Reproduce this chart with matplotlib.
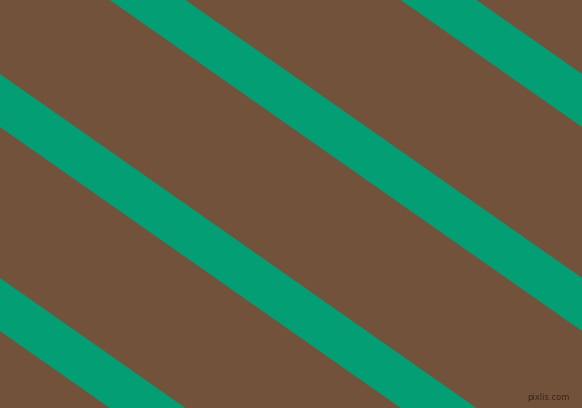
import numpy as np
import matplotlib
matplotlib.use("Agg")
import matplotlib.pyplot as plt

# Pattern data (pixel space of the 582x408 image, y measured downward)
width_px = 582
height_px = 408
stripe_slope = 204 / 291          # drop per unit x
stripe_intercepts = [-307.5, -103.5, 100.5, 304.5]   # centre-line y at x=0
stripe_thickness = 53             # vertical thickness
background_color = "#73523c"
stripe_color = "#039e74"
watermark = "pixlis.com"

fig = plt.figure(figsize=(width_px / 100, height_px / 100), dpi=100)
ax = fig.add_axes([0, 0, 1, 1])
ax.set_facecolor(background_color)
fig.patch.set_facecolor(background_color)

x = np.array([-50.0, width_px + 50.0])
for c in stripe_intercepts:
    yc = stripe_slope * x + c
    ax.fill_between(x, yc - stripe_thickness / 2, yc + stripe_thickness / 2,
                    color=stripe_color, linewidth=0)

ax.text(570, 398, watermark, ha="right", va="center", fontsize=6,
        color="#3b2416", family="DejaVu Sans")

ax.set_xlim(0, width_px)
ax.set_ylim(height_px, 0)
ax.axis("off")
fig.savefig("out.png", dpi=100, facecolor=background_color)
